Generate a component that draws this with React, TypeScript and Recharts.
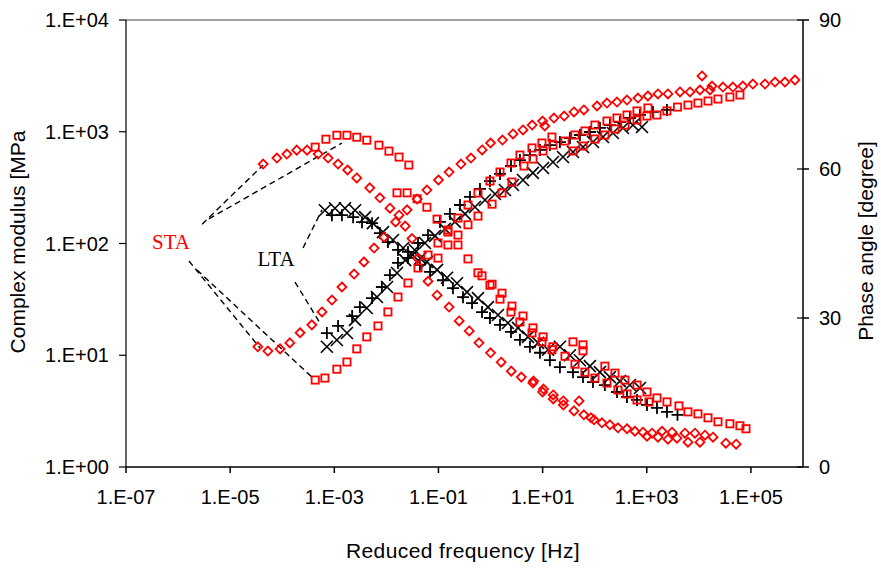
import React from 'react'
import { ScatterChart, Scatter, XAxis, YAxis, ReferenceLine, ReferenceDot } from 'recharts'

// [reduced frequency Hz, value] pairs
// STA, diamonds
const staDiaModulus = [
  [3.4e-5, 11.9], [5.3e-5, 10.9], [9.1e-5, 11.4], [1.4e-4, 12.9], [2.2e-4, 15.9], [3.7e-4, 18.7],
  [5.8e-4, 24.4], [9.0e-4, 31.2], [1.4e-3, 40.8], [2.4e-3, 53.3], [3.7e-3, 68.3], [5.8e-3, 91],
  [9.0e-3, 114], [1.5e-2, 156], [2.5e-2, 200], [3.9e-2, 250], [6.0e-2, 301], [0.1, 370],
  [0.16, 436], [0.27, 514], [0.42, 582], [0.69, 687], [1.0, 793], [1.7, 843], [2.7, 955],
  [4.2, 1037], [6.3, 1148], [10, 1247], [11, 1126], [16.5, 1327], [26, 1383], [40, 1503],
  [62, 1567], [111, 1700], [172, 1807], [268, 1845], [417, 1923], [678, 2004], [1050, 2089],
  [1640, 2178], [2550, 2178], [4340, 2270], [6750, 2270], [10500, 2364], [11500, 3155],
  [16400, 2364], [17900, 2566], [29000, 2512], [45000, 2512], [70000, 2566], [109000, 2673],
  [186000, 2673], [290000, 2786], [450000, 2786], [700000, 2904],
]
const staDiaPhase = [
  [4.3e-5, 61.0], [7.9e-5, 62.2], [1.23e-4, 63.0], [1.9e-4, 63.8], [3.0e-4, 63.8], [4.9e-4, 63.0],
  [7.6e-4, 62.2], [1.18e-3, 61.0], [1.8e-3, 59.8], [2.7e-3, 58.2], [4.8e-3, 56.2], [7.5e-3, 54.2],
  [1.17e-2, 52.1], [1.75e-2, 50.7], [2.3e-2, 48.5], [3.1e-2, 46.0], [4.0e-2, 42.0], [6.3e-2, 37.4],
  [9.4e-2, 34.6], [0.16, 32.2], [0.25, 29.4], [0.39, 27.4], [0.6, 25.0], [1.0, 23.0], [1.6, 21.1],
  [2.5, 19.3], [3.9, 18.1], [6.5, 16.9], [6.7, 17.3], [10, 15.1], [10.4, 15.7], [16, 14.5],
  [16, 13.7], [25, 13.3], [25, 12.5], [40, 11.3], [50, 13.3], [62, 10.5], [85, 9.9], [97, 9.5],
  [138, 8.9], [196, 8.5], [280, 7.9], [417, 7.7], [593, 7.2], [845, 7.0], [1010, 6.2],
  [1260, 6.8], [1640, 6.0], [1960, 7.2], [2550, 5.6], [3050, 7.0], [3800, 5.8], [5400, 6.8],
  [6180, 5.0], [8400, 6.8], [10500, 5.0], [13100, 6.4], [18700, 6.0], [33000, 4.8], [52000, 4.6],
]

// STA, squares
const staSqModulus = [
  [4.3e-4, 6.0], [6.6e-4, 6.25], [1.12e-3, 7.5], [1.75e-3, 8.7], [2.7e-3, 11.4], [4.2e-3, 14.6],
  [6.9e-3, 18.3], [1.07e-2, 24.4], [1.67e-2, 33.2], [2.6e-2, 44.3], [4.05e-2, 60.4], [6.3e-2, 78.9],
  [9.8e-2, 101], [0.152, 132], [0.237, 169], [0.369, 221], [0.574, 283], [0.975, 362], [1.52, 436],
  [2.47, 525], [3.67, 619], [6.25, 716], [9.7, 793], [15.1, 897], [41.8, 935], [65, 1016],
  [101, 1148], [172, 1247], [268, 1327], [417, 1413], [649, 1535], [1054, 1633],
  [9.8e-2, 74], [0.152, 97], [0.237, 119], [0.369, 147], [0.574, 176], [1.07, 225], [1.66, 283],
  [2.58, 355], [4.39, 494], [6.53, 570], [10.2, 673], [15.8, 760], [26.9, 826], [38.3, 673],
  [59.6, 745], [101, 861], [157, 935], [245, 1059], [381, 1148], [649, 1274], [1009, 1383],
  [1570, 1413], [2443, 1535], [3890, 1663], [6180, 1734], [9616, 1807], [15000, 1884],
  [23300, 1963], [39500, 2046], [61500, 2133],
]
const staSqPhase = [
  [4.3e-4, 64.4], [6.9e-4, 66.0], [1.12e-3, 66.8], [1.75e-3, 66.8], [2.7e-3, 66.4], [4.2e-3, 65.8],
  [7.2e-3, 64.8], [1.12e-2, 63.6], [1.75e-2, 62.4], [2.7e-2, 60.8], [1.6e-2, 55.2], [2.5e-2, 55.2],
  [3.9e-2, 54.0], [6.0e-2, 52.3], [9.4e-2, 49.9], [0.152, 47.3], [0.237, 44.7], [0.369, 41.9],
  [0.574, 39.1], [0.975, 36.6], [1.52, 33.8], [2.47, 31.2], [3.67, 29.2], [6.25, 27.0], [9.7, 25.2],
  [15.1, 23.6], [26.9, 22.3], [41.8, 20.7], [65, 19.1], [101, 17.9], [172, 16.9], [280, 15.5],
  [417, 14.7], [649, 13.5], [1102, 13.1], [1570, 13.9], [2443, 13.1], [4150, 12.3], [6180, 11.1],
  [9616, 10.7], [15000, 9.9], [23300, 9.1], [39500, 8.7], [61500, 8.3], [80400, 7.7],
  [0.686, 38.5], [1.07, 36.8], [1.66, 35.0], [2.58, 32.4], [4.2, 30.4], [6.53, 28.0], [10.2, 26.2],
  [15.8, 24.2], [38.3, 25.2], [59.6, 24.6], [59.6, 23.4], [157, 20.3], [245, 18.9], [381, 17.5],
  [649, 16.5], [1009, 15.1],
]

// LTA, plus
const ltaPlusModulus = [
  [7.2e-4, 15.8], [1.18e-3, 18.3], [2.2e-3, 22.4], [3.1e-3, 27.0], [5.3e-3, 32.5], [8.2e-3, 40.8],
  [1.17e-2, 52.2], [1.67e-2, 67], [2.6e-2, 84], [4.05e-2, 101], [6.3e-2, 119], [0.107, 156],
  [0.166, 184], [0.259, 221], [0.403, 261], [0.627, 308], [0.975, 362], [1.52, 419], [2.47, 494],
  [3.67, 558], [5.71, 619], [8.9, 687], [13.8, 760], [21.5, 809], [33.5, 879], [52, 935], [81, 995],
  [126, 1081], [196, 1148], [305, 1222], [475, 1327], [740, 1413], [1315, 1503], [2443, 1567],
]
const ltaPlusPhase = [
  [9.0e-4, 50.7], [1.4e-3, 50.7], [2.3e-3, 50.3], [3.4e-3, 49.3], [5.3e-3, 49.1], [7.5e-3, 47.1],
  [1.07e-2, 45.3], [1.67e-2, 43.7], [2.6e-2, 42.1], [4.4e-2, 40.7], [6.9e-2, 39.3], [0.122, 37.6],
  [0.19, 36.0], [0.296, 34.2], [0.441, 33.0], [0.686, 31.2], [0.975, 30.0], [1.52, 28.6],
  [2.47, 27.2], [3.67, 25.6], [5.71, 24.2], [8.89, 23.0], [13.8, 21.5], [21.5, 20.1], [38.3, 19.1],
  [59.6, 18.1], [92.7, 17.1], [157, 16.5], [268, 15.1], [417, 14.1], [649, 13.5], [1009, 12.5],
  [1570, 11.9], [2443, 11.1], [3890, 10.5],
]

// LTA, cross
const ltaCrossModulus = [
  [7.2e-4, 11.9], [1.12e-3, 13.7], [1.75e-3, 15.8], [2.5e-3, 20.7], [4.2e-3, 26.5], [6.6e-3, 33.2],
  [1.03e-2, 40.8], [1.6e-2, 54.5], [2.3e-2, 71], [3.5e-2, 87.5], [5.5e-2, 101], [8.6e-2, 117],
  [0.133, 135], [0.207, 156], [0.323, 184], [0.502, 212], [0.782, 245], [1.22, 277], [1.89, 301],
  [2.7, 334], [4.2, 370], [6.5, 428], [10.2, 474], [15.8, 536], [24.6, 594], [38.3, 659],
  [59.6, 731], [92.7, 809], [144, 897], [224, 975], [349, 1081], [543, 1148], [809, 1104],
]
const ltaCrossPhase = [
  [6.6e-4, 51.7], [1.03e-3, 52.1], [1.6e-3, 52.1], [2.5e-3, 51.7], [3.9e-3, 50.3], [5.5e-3, 49.1],
  [8.6e-3, 47.3], [1.34e-2, 45.7], [2.1e-2, 44.1], [3.2e-2, 42.7], [4.5e-2, 42.0], [6.0e-2, 41.3],
  [9.4e-2, 39.7], [0.146, 38.1], [0.227, 37.0], [0.353, 35.2], [0.574, 34.0], [0.893, 32.2],
  [1.39, 30.6], [2.16, 29.0], [3.37, 28.0], [5.24, 26.2], [8.15, 25.0], [12.7, 23.6], [21.5, 24.2],
  [33.5, 22.5], [52, 21.5], [81, 20.3], [126, 19.1], [196, 18.1], [305, 17.3], [475, 16.5],
  [740, 15.9],
]

const freqTicks = [1e-7, 1e-5, 1e-3, 1e-1, 1e1, 1e3, 1e5]
const modulusTicks = [1, 10, 100, 1000, 10000]
const phaseTicks = [0, 30, 60, 90]

// dashed leader lines from the labels to the first point of each curve, [freq, modulus]
const staLeaders = [
  [[2.9e-6, 149], [4.3e-5, 504]],
  [[3.9e-6, 166], [1.4e-3, 793]],
  [[1.62e-6, 69.7], [3.74e-5, 11.6]],
  [[2.31e-6, 57.9], [3.89e-4, 6.25]],
]
const ltaLeaders = [
  [[2.51e-4, 91.2], [5.79e-4, 200]],
  [[1.76e-4, 45.2], [5.31e-4, 19.4]],
]

const RED = '#ff0000'
const SANS = '"Liberation Sans", Arial, sans-serif'
const SERIF = '"Liberation Serif", "Times New Roman", serif'

const toPoints = (rows: number[][]) => rows.map(([x, y]) => ({ x, y }))

const sci = (v: number) => {
  const e = Math.round(Math.log10(v))
  return `1.E${e < 0 ? '-' : '+'}${String(Math.abs(e)).padStart(2, '0')}`
}

const Diamond = (p: any) => (
  <path
    d={`M${p.cx},${p.cy - 4.5}L${p.cx + 4.5},${p.cy}L${p.cx},${p.cy + 4.5}L${p.cx - 4.5},${p.cy}Z`}
    fill="none" stroke={RED} strokeWidth={1.8}
  />
)
const Square = (p: any) => (
  <rect x={p.cx - 3.6} y={p.cy - 3.6} width={7.2} height={7.2} fill="none" stroke={RED} strokeWidth={1.8} />
)
const Plus = (p: any) => (
  <path d={`M${p.cx - 6},${p.cy}H${p.cx + 6}M${p.cx},${p.cy - 6}V${p.cy + 6}`} stroke="#000" strokeWidth={1.8} />
)
const Cross = (p: any) => (
  <path
    d={`M${p.cx - 6},${p.cy - 6}L${p.cx + 6},${p.cy + 6}M${p.cx + 6},${p.cy - 6}L${p.cx - 6},${p.cy + 6}`}
    stroke="#000" strokeWidth={1.6}
  />
)

const tickStyle = { fontSize: 20, fontFamily: SANS, fill: '#000' }

// right-axis tick: the mark crosses the axis line, as in the original
const PhaseTick = (p: any) => (
  <g>
    <line x1={p.x - 22} x2={p.x - 16} y1={p.y} y2={p.y} stroke="#000" strokeWidth={1.2} />
    <text x={p.x} y={p.y} dy="0.36em" textAnchor="start" fontSize={20} fontFamily={SANS} fill="#000">
      {p.payload.value}
    </text>
  </g>
)

const titleStyle: React.CSSProperties = {
  position: 'absolute', fontFamily: SANS, fontSize: 21, color: '#000', whiteSpace: 'nowrap',
}

export default function App() {
  return (
    <div style={{ position: 'absolute', left: 0, top: 0, width: 881, height: 568, background: '#fff' }}>
      <ScatterChart width={881} height={568} margin={{ top: 20, right: 28, bottom: 61, left: 26 }}>
        <XAxis
          dataKey="x" type="number" scale="log" domain={[1e-7, 1e6]} ticks={freqTicks}
          tickFormatter={sci} allowDataOverflow height={40}
          tick={tickStyle} tickSize={6} tickMargin={17}
          stroke="#000" strokeWidth={1.5}
        />
        <YAxis
          yAxisId="mod" dataKey="y" type="number" scale="log" domain={[1, 10000]} ticks={modulusTicks}
          tickFormatter={sci} allowDataOverflow width={100}
          tick={tickStyle} tickSize={7} tickMargin={10}
          stroke="#000" strokeWidth={1.2}
        />
        <YAxis
          yAxisId="phase" orientation="right" dataKey="y" type="number" domain={[0, 90]} ticks={phaseTicks}
          allowDataOverflow width={50}
          tick={PhaseTick} tickSize={6} tickMargin={10}
          stroke="#000" strokeWidth={1.5}
        />
        <ReferenceLine yAxisId="mod" y={10000} stroke="#808080" strokeWidth={1.5} />

        {staLeaders.map(([a, b], i) => (
          <ReferenceLine
            key={`sta-${i}`} yAxisId="mod" segment={[{ x: a[0], y: a[1] }, { x: b[0], y: b[1] }]}
            stroke="#000" strokeWidth={1.4} strokeDasharray="6 4"
          />
        ))}
        {ltaLeaders.map(([a, b], i) => (
          <ReferenceLine
            key={`lta-${i}`} yAxisId="mod" segment={[{ x: a[0], y: a[1] }, { x: b[0], y: b[1] }]}
            stroke="#000" strokeWidth={1.4} strokeDasharray="6 4"
          />
        ))}
        <ReferenceDot
          yAxisId="mod" x={7.3e-7} y={105} r={1} fill="none" stroke="none"
          label={{ value: 'STA', position: 'center', fill: RED, fontSize: 21, fontFamily: SERIF }}
        />
        <ReferenceDot
          yAxisId="mod" x={7.6e-5} y={74} r={1} fill="none" stroke="none"
          label={{ value: 'LTA', position: 'center', fill: '#000', fontSize: 21, fontFamily: SERIF }}
        />

        <Scatter yAxisId="mod" data={toPoints(ltaPlusModulus)} shape={Plus} isAnimationActive={false} />
        <Scatter yAxisId="phase" data={toPoints(ltaPlusPhase)} shape={Plus} isAnimationActive={false} />
        <Scatter yAxisId="mod" data={toPoints(ltaCrossModulus)} shape={Cross} isAnimationActive={false} />
        <Scatter yAxisId="phase" data={toPoints(ltaCrossPhase)} shape={Cross} isAnimationActive={false} />
        <Scatter yAxisId="mod" data={toPoints(staDiaModulus)} shape={Diamond} isAnimationActive={false} />
        <Scatter yAxisId="phase" data={toPoints(staDiaPhase)} shape={Diamond} isAnimationActive={false} />
        <Scatter yAxisId="mod" data={toPoints(staSqModulus)} shape={Square} isAnimationActive={false} />
        <Scatter yAxisId="phase" data={toPoints(staSqPhase)} shape={Square} isAnimationActive={false} />
      </ScatterChart>

      <div style={{ ...titleStyle, left: 463, top: 551, transform: 'translate(-50%, -50%)', letterSpacing: 0.4 }}>
        Reduced frequency [Hz]
      </div>
      <div style={{ ...titleStyle, left: 18, top: 242, transform: 'translate(-50%, -50%) rotate(-90deg)' }}>
        Complex modulus [MPa
      </div>
      <div style={{ ...titleStyle, left: 866, top: 241, transform: 'translate(-50%, -50%) rotate(-90deg)' }}>
        Phase angle [degree]
      </div>
    </div>
  )
}
